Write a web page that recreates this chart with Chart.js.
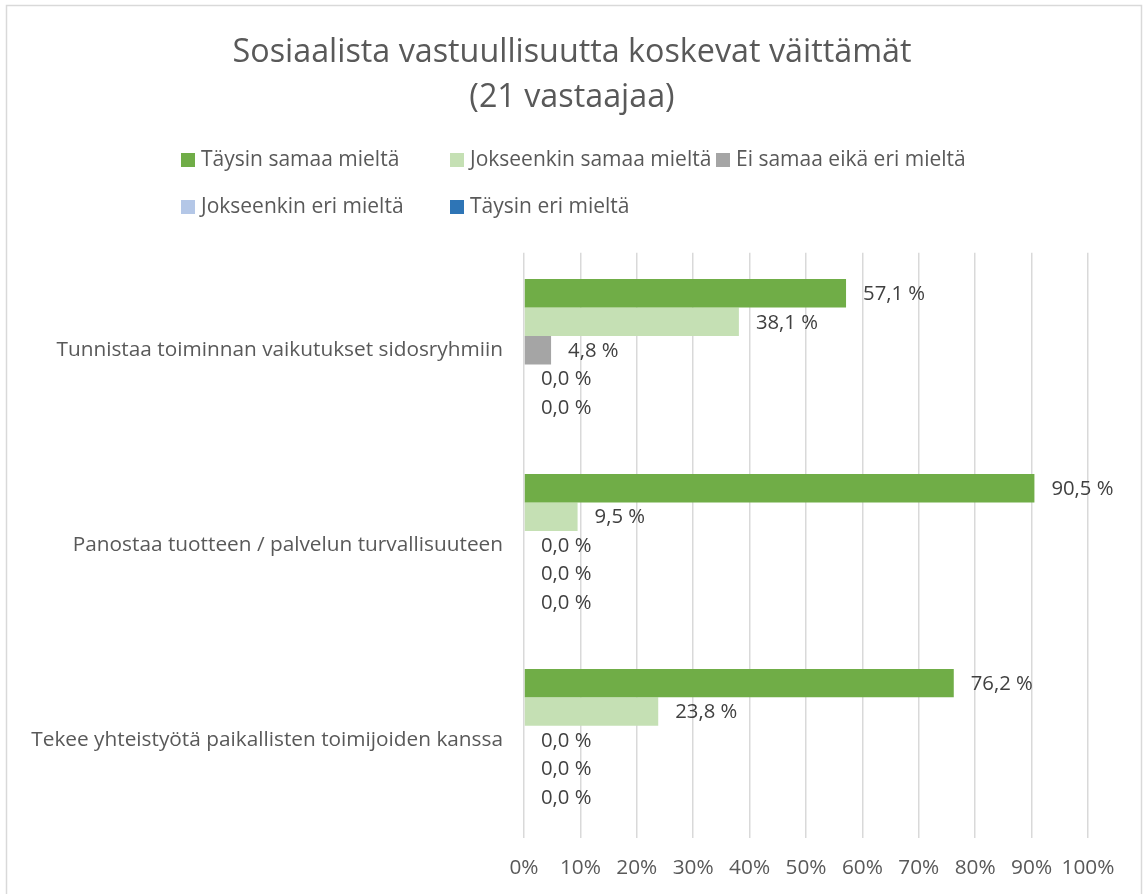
<!DOCTYPE html>
<html lang="fi">
  <head>
    <meta charset="UTF-8" />
    <title>Sosiaalista vastuullisuutta koskevat väittämät</title>
    <style>
      body,
      html {
        margin: 0;
        background: #ffffff;
      }
      .wrap {
        width: 1144px;
        height: 894px;
      }
    </style>
  </head>
  <body>
    <div class="wrap">
      <canvas id="chart"></canvas>
    </div>

    <script src="https://cdn.jsdelivr.net/npm/chart.js"></script>

    <script>
      // Väittämät (kategoriat)
      const categories = [
        "Tunnistaa toiminnan vaikutukset sidosryhmiin",
        "Panostaa tuotteen / palvelun turvallisuuteen",
        "Tekee yhteistyötä paikallisten toimijoiden kanssa",
      ];

      // Vastausvaihtoehdot, osuudet prosentteina
      const seriesNames = [
        "Täysin samaa mieltä",
        "Jokseenkin samaa mieltä",
        "Ei samaa eikä eri mieltä",
        "Jokseenkin eri mieltä",
        "Täysin eri mieltä",
      ];
      const taysinSamaa = [57.1, 90.5, 76.2];
      const jokseenkinSamaa = [38.1, 9.5, 23.8];
      const eiSamaaEikaEri = [4.8, 0.0, 0.0];
      const jokseenkinEri = [0.0, 0.0, 0.0];
      const taysinEri = [0.0, 0.0, 0.0];

      const seriesColors = ["#70AD47", "#C5E0B4", "#A5A5A5", "#B4C7E7", "#2E75B6"];
      const xTicks = [0, 10, 20, 30, 40, 50, 60, 70, 80, 90, 100];

      const FONT = "'Open Sans', Lato, sans-serif";
      const TEXT = "#595959";

      const values = [taysinSamaa, jokseenkinSamaa, eiSamaaEikaEri, jokseenkinEri, taysinEri];
      const datasets = seriesNames.map((name, i) => ({
        label: name,
        data: values[i],
        backgroundColor: seriesColors[i],
        borderWidth: 0,
        categoryPercentage: 0.73,
        barPercentage: 1.0,
      }));

      // Tausta ja reunaviiva
      const frame = {
        id: "frame",
        beforeDraw(chart) {
          const c = chart.ctx;
          c.save();
          c.fillStyle = "#ffffff";
          c.fillRect(0, 0, chart.width, chart.height);
          c.strokeStyle = "#d9d9d9";
          c.lineWidth = 1.5;
          c.strokeRect(6.5, 5.5, chart.width - 9, chart.height + 20);
          c.restore();
        },
      };

      // Arvot palkkien perään
      const valueLabels = {
        id: "valueLabels",
        afterDatasetsDraw(chart) {
          const c = chart.ctx;
          c.save();
          c.font = "20.3px " + FONT;
          c.fillStyle = "#404040";
          c.textBaseline = "middle";
          c.textAlign = "left";
          chart.data.datasets.forEach((ds, i) => {
            chart.getDatasetMeta(i).data.forEach((bar, j) => {
              const txt = ds.data[j].toFixed(1).replace(".", ",") + " %";
              c.fillText(txt, bar.x + 17, bar.y + 1);
            });
          });
          c.restore();
        },
      };

      // Selite kahdelle riville kuten alkuperäisessä
      const gridLegend = {
        id: "gridLegend",
        afterDraw(chart) {
          const c = chart.ctx;
          const cols = [181, 450, 716];
          const rows = [160, 207];
          c.save();
          c.font = "21px " + FONT;
          c.textBaseline = "middle";
          c.textAlign = "left";
          chart.data.datasets.forEach((ds, i) => {
            const x = cols[i % 3];
            const y = rows[Math.floor(i / 3)];
            c.fillStyle = ds.backgroundColor;
            c.fillRect(x, y - 7, 14, 14);
            c.fillStyle = TEXT;
            c.fillText(ds.label, x + 20, y);
          });
          c.restore();
        },
      };

      const ctx = document.getElementById("chart").getContext("2d");
      new Chart(ctx, {
        type: "bar",
        data: { labels: categories, datasets: datasets },
        options: {
          indexAxis: "y",
          responsive: true,
          maintainAspectRatio: false,
          animation: false,
          layout: { padding: 0 },
          plugins: {
            legend: { display: false },
            tooltip: { enabled: false },
            title: {
              display: true,
              text: ["Sosiaalista vastuullisuutta koskevat väittämät", "(21 vastaajaa)"],
              color: TEXT,
              font: { family: FONT, size: 32.3, weight: "normal", lineHeight: 1.39 },
              padding: { top: 30, bottom: 133 },
            },
          },
          scales: {
            x: {
              min: 0,
              max: 100,
              afterBuildTicks(scale) {
                scale.ticks = xTicks.map((v) => ({ value: v }));
              },
              afterFit(scale) {
                scale.height = 56.5;
              },
              ticks: {
                color: TEXT,
                font: { family: FONT, size: 20.8 },
                padding: 18,
                minRotation: 0,
                maxRotation: 0,
                autoSkip: false,
                callback: (v) => v + "%",
              },
              grid: { color: "#d9d9d9", lineWidth: 1.5, drawTicks: false },
              border: { display: false },
            },
            y: {
              afterFit(scale) {
                scale.width = 524;
              },
              ticks: {
                color: TEXT,
                font: { family: FONT, size: 20.8 },
                padding: 21,
              },
              grid: { display: false, drawTicks: false },
              border: { display: false },
            },
            // tyhjä tila oikealle, jotta otsikko pysyy keskellä
            yRight: {
              type: "category",
              position: "right",
              afterFit(scale) {
                scale.width = 56;
              },
              ticks: { display: false },
              grid: { display: false, drawTicks: false },
              border: { display: false },
            },
          },
        },
        plugins: [frame, valueLabels, gridLegend],
      });
    </script>
  </body>
</html>
